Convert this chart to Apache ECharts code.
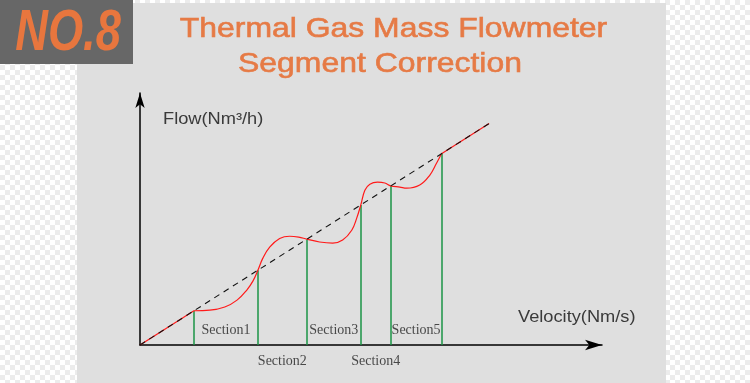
<!DOCTYPE html>
<html>
<head>
<meta charset="utf-8">
<script src="https://cdn.jsdelivr.net/npm/echarts@6/dist/echarts.min.js"></script>
<style>
  html, body { margin: 0; padding: 0; }
  body {
    width: 750px; height: 383px; overflow: hidden;
    background: repeating-conic-gradient(#ececec 0 25%, #ffffff 0 50%) 0 0 / 10px 10px;
  }
  #chart { width: 750px; height: 383px; }
</style>
</head>
<body>
<div id="chart"></div>
<script>
// ---- data (velocity units on x, flow units on y) ----
const sectionBounds = [1.19, 2.6, 3.68, 4.87, 5.53, 6.65];
const sectionNames = ['Section1', 'Section2', 'Section3', 'Section4', 'Section5'];
const idealLine = [[0, 0], [7.7, 7.7]];
const measuredStart = [[0, 0], [1.19, 1.19]];
const measuredCurve = [
  [1.19, 1.19], [1.54, 1.21], [1.87, 1.32], [2.14, 1.56], [2.36, 1.92], [2.49, 2.22],
  [2.6, 2.6], [2.71, 3.02], [2.86, 3.40], [3.08, 3.70], [3.30, 3.78], [3.50, 3.75],
  [3.68, 3.68], [3.96, 3.58], [4.25, 3.54], [4.47, 3.65], [4.67, 3.99], [4.78, 4.41],
  [4.87, 4.87], [4.96, 5.38], [5.07, 5.59], [5.24, 5.66], [5.40, 5.63], [5.53, 5.53],
  [5.73, 5.49], [5.88, 5.45], [6.17, 5.56], [6.39, 5.90], [6.54, 6.32], [6.65, 6.65]
];
const measuredEnd = [[6.65, 6.65], [7.7, 7.7]];
const titleLines = ['Thermal Gas Mass Flowmeter', 'Segment Correction'];
const yName = 'Flow(Nm³/h)';
const xName = 'Velocity(Nm/s)';
const badgeText = 'NO.8';

// ---- derived ----
const boundaryLines = sectionBounds.map(v => ({ coords: [[v, 0], [v, v]] }));
const labelPoints = sectionNames.map((n, i) => ({
  name: n,
  value: [(sectionBounds[i] + sectionBounds[i + 1]) / 2, 0],
  label: { offset: [0, i % 2 === 0 ? -15 : 16] }
}));

const chart = echarts.init(document.getElementById('chart'), null, { renderer: 'canvas' });
const RED = '#ff1a1a';
const ORANGE = '#e67a45';
const sans = '"Liberation Sans", Arial, sans-serif';

chart.setOption({
  animation: false,
  backgroundColor: 'transparent',
  grid: { left: 140, right: 148, top: 93, bottom: 38 },
  xAxis: {
    type: 'value', min: 0, max: 10.19,
    axisLine: { show: true, symbol: ['none', 'arrow'], symbolSize: [8, 17], lineStyle: { color: '#000', width: 1.5 } },
    axisTick: { show: false }, axisLabel: { show: false }, splitLine: { show: false }
  },
  yAxis: {
    type: 'value', min: 0, max: 8.76,
    axisLine: { show: true, symbol: ['none', 'arrow'], symbolSize: [7, 15], lineStyle: { color: '#000', width: 1.5 } },
    axisTick: { show: false }, axisLabel: { show: false }, splitLine: { show: false }
  },
  graphic: {
    elements: [
      { type: 'rect', z: -10, shape: { x: 77, y: 3, width: 589, height: 380 }, style: { fill: '#dfdfdf' } },
      { type: 'rect', z: -9, shape: { x: 0, y: 0, width: 133, height: 64 }, style: { fill: '#676767' } },
      { type: 'text', z: 5, x: 68, y: 34, scaleX: 0.78,
        style: { text: badgeText, font: 'italic bold 58px "Liberation Sans", Arial, sans-serif',
          fill: '#e8763e', align: 'center', verticalAlign: 'middle',
          shadowColor: 'rgba(20,20,20,0.75)', shadowBlur: 3, shadowOffsetX: 2, shadowOffsetY: 2 } },
      { type: 'text', z: 5, x: 393.5, y: 29.5, scaleX: 1.14,
        style: { text: titleLines[0], font: '28px ' + sans, fill: ORANGE, stroke: ORANGE, lineWidth: 0.6,
          align: 'center', verticalAlign: 'middle' } },
      { type: 'text', z: 5, x: 380, y: 64, scaleX: 1.14,
        style: { text: titleLines[1], font: '28px ' + sans, fill: ORANGE, stroke: ORANGE, lineWidth: 0.6,
          align: 'center', verticalAlign: 'middle' } },
      { type: 'text', z: 5, x: 163, y: 119.5, scaleX: 1.14,
        style: { text: yName, font: '16px ' + sans, fill: '#3a3a3a', align: 'left', verticalAlign: 'middle' } },
      { type: 'text', z: 5, x: 518, y: 317.5, scaleX: 1.14,
        style: { text: xName, font: '16px ' + sans, fill: '#3a3a3a', align: 'left', verticalAlign: 'middle' } }
    ]
  },
  series: [
    { type: 'line', data: measuredStart, showSymbol: false, z: 3, lineStyle: { color: RED, width: 1.2 } },
    { type: 'line', data: measuredCurve, showSymbol: false, smooth: 0.4, z: 3, lineStyle: { color: RED, width: 1.2 } },
    { type: 'line', data: measuredEnd, showSymbol: false, z: 3, lineStyle: { color: RED, width: 1.2 } },
    { type: 'line', data: idealLine, showSymbol: false, z: 4, lineStyle: { color: '#111', width: 1.1, type: [6, 5] } },
    { type: 'lines', coordinateSystem: 'cartesian2d', data: boundaryLines, z: 2,
      lineStyle: { color: '#1b9446', width: 1.5, opacity: 1 } },
    { type: 'scatter', data: labelPoints, symbolSize: 0, clip: false, z: 5,
      label: { show: true, position: 'inside', formatter: p => p.name,
        fontFamily: '"Liberation Serif", "Times New Roman", serif', fontSize: 14, color: '#222' } }
  ]
});
</script>
</body>
</html>
